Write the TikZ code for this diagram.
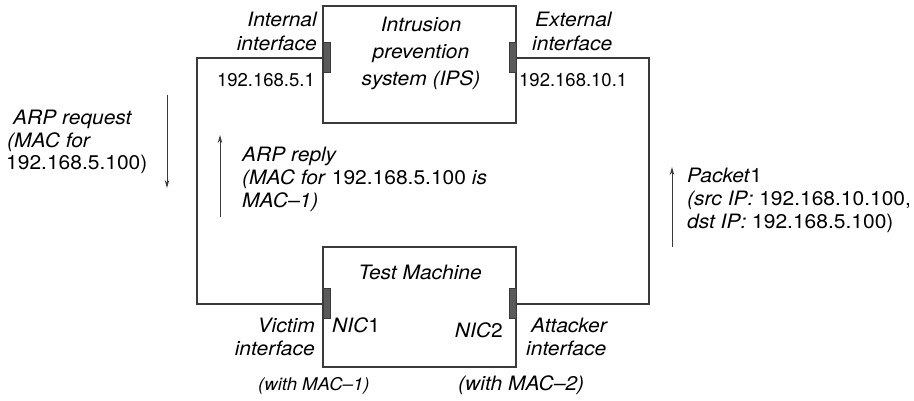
\documentclass[tikz,border=0pt]{standalone}
\usepackage{fontspec}
\setmainfont{TeX Gyre Heros}[FakeStretch=1.06]
\newfontfamily\ipfont{TeX Gyre Heros}
\usetikzlibrary{arrows.meta}
\definecolor{wire}{HTML}{3A3A3A}
\definecolor{nicfill}{HTML}{5A5A5A}
\newcommand{\up}[1]{\textup{#1}}
\begin{document}
\begin{tikzpicture}[x=1pt,y=-1pt,
  lbl/.style={inner sep=0pt,font=\fontsize{19.8}{23}\selectfont\itshape},
  iplbl/.style={inner sep=0pt,font=\fontsize{18.5}{23}\ipfont},
  smalllbl/.style={inner sep=0pt,font=\fontsize{17.5}{20}\selectfont\itshape},
  unit/.style={draw=wire,line width=1.3pt,fill=white,rectangle,inner sep=0pt},
  nic/.style={draw=wire,line width=0.8pt,fill=nicfill,rectangle,inner sep=0pt,
    minimum width=7pt,minimum height=30pt},
  link/.style={draw=wire,line width=1.3pt},
  flow/.style={draw=wire,line width=1pt,-{Stealth[length=8pt,width=4.5pt]}}]
\useasboundingbox (0,0) rectangle (914,400);

% corners of the outer wiring loop
\coordinate (tl) at (197,58);
\coordinate (bl) at (197,304);
\coordinate (tr) at (649,58);
\coordinate (br) at (649,304);

% the two boxes
\node[unit,minimum width=193pt,minimum height=117pt] (ips) at (419.5,64.5) {};
\node[unit,minimum width=193pt,minimum height=120pt] (test) at (419.5,307) {};

% network interface tabs
\node[nic] (ipsIn)  at (326.5,57) {};
\node[nic] (ipsOut) at (512.5,57) {};
\node[nic] (nic1)   at (326.5,303) {};
\node[nic] (nic2)   at (512.5,303) {};

\draw[link] (ipsIn.west |- tl) -- (tl) -- (bl) -- (nic1.west |- bl);
\draw[link] (ipsOut.east |- tr) -- (tr) -- (br) -- (nic2.east |- br);

% box titles
\node[lbl,anchor=base] (ipsT1) at (421,31) {Intrusion};
\node[lbl,anchor=base] (ipsT2) at (421,58) {prevention};
\node[lbl,anchor=base] (ipsT3) at (421,85) {system (IPS)};
\node[lbl,anchor=base] (testT) at (420,279) {Test Machine};

% IPS interfaces
\node[lbl,anchor=base east] (inL1) at (317,26) {Internal};
\node[lbl,anchor=base east] (inL2) at (317,50) {interface};
\node[iplbl,anchor=base east] (inIP) at (315,86) {192.168.5.1};
\node[lbl,anchor=base west] (exL1) at (535,26) {External};
\node[lbl,anchor=base west] (exL2) at (532,50) {interface};
\node[iplbl,anchor=base west] (exIP) at (519,86) {192.168.10.1};

% test machine interfaces
\node[lbl,anchor=base east] (viL1) at (315,332) {Victim};
\node[lbl,anchor=base east] (viL2) at (315,355) {interface};
\node[lbl,anchor=base west] (nic1L) at (332,332) {NIC\up{1}};
\node[lbl,anchor=base east] (nic2L) at (503,337) {NIC\up{2}};
\node[lbl,anchor=base west] (atL1) at (531,332) {Attacker};
\node[lbl,anchor=base west] (atL2) at (526,355) {interface};
\node[smalllbl,anchor=base west] (mac1) at (258,390) {(with MAC--1)};
\node[lbl,anchor=base west] (mac2) at (458,390) {(with MAC--2)};

% ARP request
\coordinate (reqTop) at (167,95);
\coordinate (reqBot) at (167,188);
\draw[flow] (reqTop) -- (reqBot);
\node[lbl,anchor=base west] (req1) at (13,124) {ARP request};
\node[lbl,anchor=base west] (req2) at (7,147) {(MAC for};
\node[lbl,anchor=base west] (req3) at (6,169) {\up{192.168.5.100)}};

% ARP reply
\coordinate (repBot) at (220,217);
\coordinate (repTop) at (220,135);
\draw[flow] (repBot) -- (repTop);
\node[lbl,anchor=base west] (rep1) at (242,161) {ARP reply};
\node[lbl,anchor=base west] (rep2) at (242,184) {(MAC for \up{192.168.5.100} is};
\node[lbl,anchor=base west] (rep3) at (242,207) {MAC--1)};

% attack packet
\coordinate (pktBot) at (672,247);
\coordinate (pktTop) at (672,167);
\draw[flow] (pktBot) -- (pktTop);
\node[lbl,anchor=base west] (pkt1) at (687,182) {Packet\up{1}};
\node[lbl,anchor=base west] (pkt2) at (687,205) {(src IP: \up{192.168.10.100,}};
\node[lbl,anchor=base west] (pkt3) at (687,228) {dst IP: \up{192.168.5.100)}};
\end{tikzpicture}
\end{document}
